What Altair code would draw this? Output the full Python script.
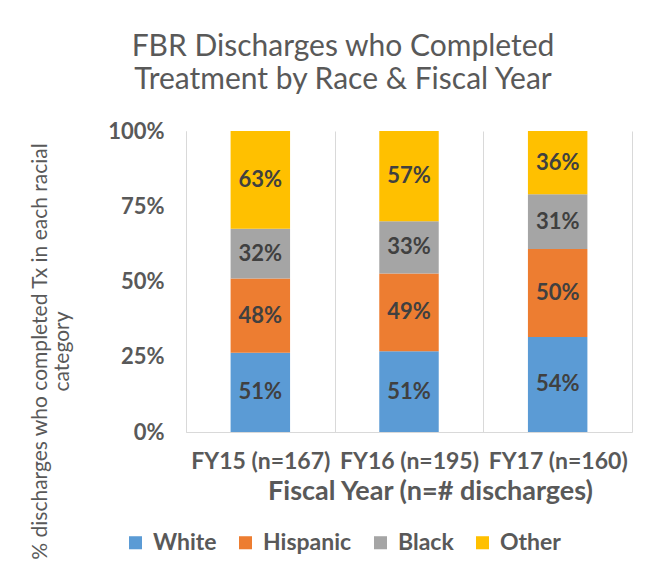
import altair as alt
import pandas as pd

years = ["FY15 (n=167)", "FY16 (n=195)", "FY17 (n=160)"]
races = ["White", "Hispanic", "Black", "Other"]
colors = ["#5B9BD5", "#ED7D31", "#A5A5A5", "#FFC000"]
white = [51, 51, 54]
hispanic = [48, 49, 50]
black = [32, 33, 31]
other = [63, 57, 36]

rows = []
for i, yr in enumerate(years):
    for j, (r, vals) in enumerate(zip(races, [white, hispanic, black, other])):
        rows.append({"year": yr, "race": r, "value": vals[i], "order": j})
df = pd.DataFrame(rows)

FONT = "Lato"
GREY = "#595959"
LINE = "#D9D9D9"

x_enc = alt.X(
    "year:N", sort=years, title="Fiscal Year (n=# discharges)",
    scale=alt.Scale(paddingInner=0, paddingOuter=0),
    axis=alt.Axis(labelAngle=0, tickBand="extent", grid=True, gridColor=LINE,
                  ticks=False, domainColor=LINE, labelFont=FONT, labelFontSize=23,
                  labelFontWeight="bold", labelColor=GREY, labelPadding=18,
                  titleFont=FONT, titleFontSize=27, titleFontWeight="bold",
                  titleColor=GREY, titlePadding=5, titleX=244),
)

bars = alt.Chart(df).mark_bar(width={"band": 0.4}).encode(
    x=x_enc,
    y=alt.Y("value:Q", stack="normalize",
            scale=alt.Scale(domain=[0, 1]),
            title=["% discharges who completed Tx in each racial", "category"],
            axis=alt.Axis(values=[0, 0.25, 0.5, 0.75, 1], format=".0%", ticks=False,
                          grid=False, domainColor=LINE, labelFont=FONT, labelFontSize=22,
                          labelFontWeight="bold", labelColor=GREY, labelPadding=22,
                          titleFont=FONT, titleFontSize=21, titleFontWeight="normal",
                          titleColor=GREY, titleX=-136, titleY=220, titleLineHeight=22)),
    color=alt.Color("race:N", sort=races,
                    scale=alt.Scale(domain=races, range=colors),
                    legend=alt.Legend(title=None, orient="none", direction="horizontal",
                                      columns=4, legendX=-62, legendY=400,
                                      symbolType="square", symbolSize=170,
                                      symbolStrokeWidth=0, labelFont=FONT,
                                      labelFontSize=23, labelFontWeight="bold",
                                      labelColor=GREY, columnPadding=17, labelOffset=6)),
    order=alt.Order("order:Q", sort="ascending"),
)

labels = alt.Chart(df).transform_joinaggregate(
    total="sum(value)", groupby=["year"]
).transform_window(
    cum="sum(value)", sort=[alt.SortField("order")], groupby=["year"], frame=[None, 0]
).transform_calculate(
    mid="(datum.cum - datum.value / 2) / datum.total",
    label="datum.value + '%'",
).mark_text(font=FONT, fontSize=22, fontWeight="bold", color="#404040").encode(
    x=alt.X("year:N", sort=years),
    y=alt.Y("mid:Q", scale=alt.Scale(domain=[0, 1]), axis=None),
    text="label:N",
)

chart = alt.layer(bars, labels).resolve_axis(y="independent").properties(
    width=446, height=301,
    autosize="none",
    padding={"left": 178, "top": 123, "right": 16, "bottom": 132},
    title=alt.Title(["FBR Discharges who Completed", "Treatment by Race & Fiscal Year"],
                    font=FONT, fontSize=30, fontWeight="normal", color=GREY,
                    anchor="middle", dx=-66, offset=25, lineHeight=33),
).configure(background="white").configure_view(strokeWidth=0)

chart.save("out.html", embed_options={"renderer": "svg", "actions": False})
